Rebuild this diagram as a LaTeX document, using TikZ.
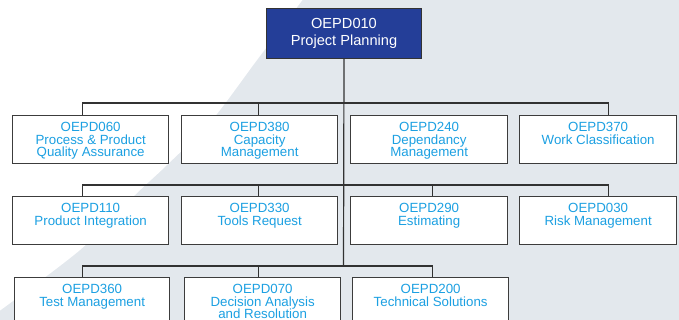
\documentclass[tikz,border=0pt]{standalone}
\usepackage{fontspec}
\setmainfont{Liberation Sans}
\definecolor{bggray}{RGB}{227,232,237}
\definecolor{topblue}{RGB}{36,62,152}
\definecolor{txtblue}{RGB}{28,160,226}
\definecolor{linegray}{RGB}{50,50,50}
\definecolor{boxline}{RGB}{60,60,60}
\newcommand{\cboxtext}[2]{\parbox[c][48pt][t]{#1}{\centering\fontsize{13.3pt}{12.7pt}\selectfont\vspace*{6.5pt}#2\par}}
\newcommand{\topboxtext}[1]{\parbox[c][50pt][t]{155pt}{\centering\fontsize{14.6pt}{16.6pt}\selectfont\vspace*{9.8pt}#1\par}}
\begin{document}
\begin{tikzpicture}[x=1pt,y=-1pt,
  childbox/.style={draw=boxline,line width=1.3pt,fill=white,inner sep=0pt,anchor=north west,text=txtblue},
  topbox/.style={draw=black!80,line width=1pt,fill=topblue,inner sep=0pt,anchor=north west,text=white},
  conn/.style={draw=linegray,line width=1.2pt}]
\useasboundingbox (0,0) rectangle (679,320);
\clip (0,0) rectangle (679,320);
\fill[bggray] (0,0) rectangle (679,320);
\fill[white] (-2,-2) -- plot[smooth] coordinates {(304,-2) (257,60) (212,120) (167,165) (135,195) (80,250) (-2,312)} -- cycle;

\node[topbox] (top) at (266,8) {\topboxtext{OEPD010\\Project Planning}};

\node[childbox] (b11) at (12,115) {\cboxtext{156pt}{OEPD060\\Process \& Product\\Quality Assurance}};
\node[childbox] (b12) at (181,115) {\cboxtext{156pt}{OEPD380\\Capacity\\Management}};
\node[childbox] (b13) at (350,115) {\cboxtext{157pt}{OEPD240\\Dependancy\\Management}};
\node[childbox] (b14) at (519,115) {\cboxtext{157pt}{OEPD370\\Work Classification}};

\node[childbox] (b21) at (12,196) {\cboxtext{156pt}{OEPD110\\Product Integration}};
\node[childbox] (b22) at (181,196) {\cboxtext{156pt}{OEPD330\\Tools Request}};
\node[childbox] (b23) at (350,196) {\cboxtext{157pt}{OEPD290\\Estimating}};
\node[childbox] (b24) at (519,196) {\cboxtext{157pt}{OEPD030\\Risk Management}};

\node[childbox] (b31) at (14,277) {\cboxtext{155pt}{OEPD360\\Test Management}};
\node[childbox] (b32) at (184,277) {\cboxtext{156pt}{OEPD070\\Decision Analysis\\and Resolution}};
\node[childbox] (b33) at (352,277) {\cboxtext{156pt}{OEPD200\\Technical Solutions}};

\coordinate (j1) at (343.5,103);
\coordinate (j2) at (343.5,185);
\coordinate (j3) at (343.5,266);

\draw[conn] (top.south) -- (j3);
\draw[conn] ([xshift=-8pt]b11.north) |- (j1);
\draw[conn] ([xshift=-1pt]b12.north) |- (j1);
\draw[conn] ([xshift=10.5pt]b14.north) |- (j1);

\draw[conn] ([xshift=-8pt]b21.north) |- (j2);
\draw[conn] ([xshift=-1pt]b22.north) |- (j2);
\draw[conn] ([xshift=3.5pt]b23.north) |- (j2);
\draw[conn] ([xshift=10.5pt]b24.north) |- (j2);

\draw[conn] ([xshift=-9.5pt]b31.north) |- (j3);
\draw[conn] ([xshift=-4pt]b32.north) |- (j3);
\draw[conn] ([xshift=2pt]b33.north) |- (j3);
\end{tikzpicture}
\end{document}
